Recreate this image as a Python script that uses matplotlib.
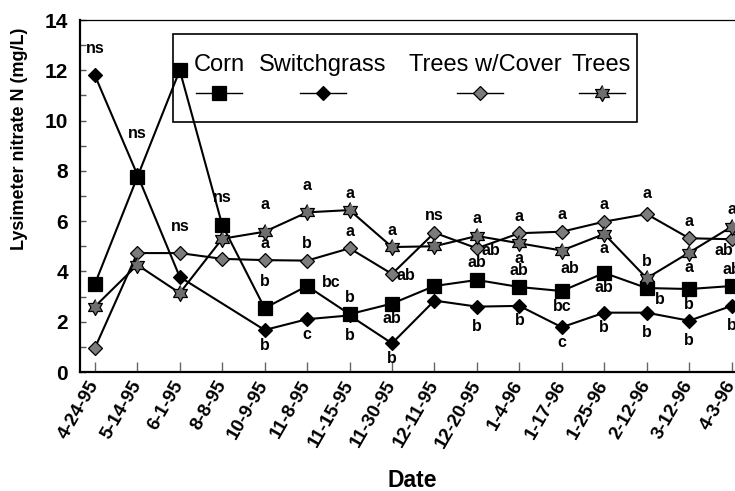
import numpy as np
import matplotlib

matplotlib.use("Agg")
import matplotlib.pyplot as plt
from matplotlib.lines import Line2D
from matplotlib.patches import Rectangle
from matplotlib.ticker import MultipleLocator

plt.rcParams["font.family"] = ["Liberation Sans", "DejaVu Sans"]

dates = ["4-24-95", "5-14-95", "6-1-95", "8-8-95", "10-9-95", "11-8-95",
         "11-15-95", "11-30-95", "12-11-95", "12-20-95", "1-4-96", "1-17-96",
         "1-25-96", "2-12-96", "3-12-96", "4-3-96"]

corn = [3.5, 7.75, 12.0, 5.85, 2.54, 3.42, 2.3, 2.72, 3.42, 3.66, 3.38, 3.22,
        3.94, 3.34, 3.3, 3.42]
switchgrass = [11.8, 7.85, 3.78, np.nan, 1.67, 2.1, 2.25, 1.14, 2.84, 2.6,
               2.63, 1.78, 2.36, 2.36, 2.04, 2.63]
trees_cover = [0.95, 4.73, 4.73, 4.5, 4.45, 4.43, 4.92, 3.9, 5.54, 4.92,
               5.52, 5.58, 5.98, 6.28, 5.32, 5.28]
trees = [2.6, 4.26, 3.14, 5.3, 5.58, 6.35, 6.44, 4.97, 5.0, 5.41, 5.12, 4.83,
         5.49, 3.73, 4.75, 5.78]

# mean-separation letters at each date
corn_sig = ["", "ns", "", "ns", "b", "bc", "b", "ab", "", "ab", "ab", "bc",
            "ab", "b", "b", "ab"]
switchgrass_sig = ["ns", "", "", "", "b", "c", "b", "b", "", "b", "b", "c",
                   "b", "b", "b", "b"]
trees_cover_sig = ["", "", "ns", "", "a", "b", "a", "ab", "ns", "ab", "a", "a",
                   "a", "a", "a", "ab"]
trees_sig = ["", "", "", "", "a", "a", "a", "a", "", "a", "a", "ab", "a", "b",
             "a", "a"]

# where each letter sits relative to its marker
corn_pos = ["", "W", "", "U", "U", "R", "u", "d", "", "u", "u", "d", "d", "rd",
            "d", "u"]
switchgrass_pos = ["U", "", "", "", "d", "d", "D", "d", "", "D", "d", "d", "d",
                   "D", "D", "D"]
trees_cover_pos = ["", "", "U", "", "u", "u", "u", "r", "u", "r", "u", "u", "u",
                   "uu", "u", "dl"]
trees_pos = ["", "", "", "", "U", "U", "u", "u", "", "u", "d", "dr", "d", "u",
             "d", "u"]

OFFSETS = {"u": (0, 17), "uu": (0, 21), "U": (0, 27), "W": (0, 44),
           "d": (0, -15), "D": (0, -20), "dr": (8, -18), "dl": (-8, -11),
           "rd": (13, -11), "r": (14, -2), "R": (24, 4)}


def hexagram():
    verts = []
    for k in range(12):
        r = 1.0 if k % 2 == 0 else 1 / np.sqrt(3)
        a = np.deg2rad(90 + 30 * k)
        verts.append((r * np.cos(a), r * np.sin(a)))
    return verts


STAR = hexagram()
styles = {
    "Corn": dict(marker="s", markersize=10, markerfacecolor="black"),
    "Switchgrass": dict(marker="D", markersize=7, markerfacecolor="black"),
    "Trees w/Cover": dict(marker="D", markersize=7.4, markerfacecolor="#7c7c7c"),
    "Trees": dict(marker=STAR, markersize=11.5, markerfacecolor="#6e6e6e"),
}

series = [("Corn", corn, corn_sig, corn_pos),
          ("Switchgrass", switchgrass, switchgrass_sig, switchgrass_pos),
          ("Trees w/Cover", trees_cover, trees_cover_sig, trees_cover_pos),
          ("Trees", trees, trees_sig, trees_pos)]

fig = plt.figure(figsize=(7.35, 4.91), dpi=100)
ax = fig.add_axes([80 / 735, 1 - 372 / 491, 655 / 735, 352 / 491])

x = np.arange(len(dates))
for name, vals, sig, pos in series:
    vals = np.asarray(vals, dtype=float)
    ok = ~np.isnan(vals)
    ax.plot(x[ok], vals[ok], color="black", linewidth=1.5,
            markeredgecolor="black", markeredgewidth=0.9, clip_on=False,
            **styles[name])
    for i, (txt, p) in enumerate(zip(sig, pos)):
        if not txt:
            continue
        dx, dy = OFFSETS[p]
        ax.annotate(txt, (x[i], vals[i]), xytext=(dx, dy),
                    textcoords="offset pixels", ha="center", va="center",
                    fontsize=11.5, fontweight="bold")

ax.set_xlim(-0.35, 15.08)
ax.set_ylim(0, 14)
ax.set_xticks(x)
ax.set_xticklabels(dates, fontsize=13.5, fontweight="bold")
plt.setp(ax.get_xticklabels(), rotation=60, ha="right", va="center",
         rotation_mode="anchor")
ax.yaxis.set_major_locator(MultipleLocator(2))
ax.yaxis.set_minor_locator(MultipleLocator(1))
for lab in ax.get_yticklabels():
    lab.set_fontweight("bold")

ax.tick_params(axis="x", direction="in", length=7, width=1, color="#666666",
               pad=7)
ax.tick_params(axis="y", which="both", direction="in", length=4.5, width=1,
               color="#555555", pad=8.5)
ax.tick_params(axis="y", which="major", labelsize=15)

ax.spines["right"].set_visible(False)
ax.spines["left"].set_linewidth(1.6)
ax.spines["bottom"].set_linewidth(1.6)
ax.spines["top"].set_linewidth(0.9)

ax.set_ylabel("Lysimeter nitrate N (mg/L)", fontsize=13, fontweight="bold")
ax.yaxis.set_label_coords(-0.079, 0.662)
ax.set_xlabel("Date", fontsize=16.5, fontweight="bold", va="center")
ax.xaxis.set_label_coords(0.507, -0.307)


# hand-built legend: names on top, samples underneath
def fx(px):
    return px / 735


def fy(py):
    return 1 - py / 491


fig.add_artist(Rectangle((fx(173), fy(122)), fx(637) - fx(173),
                         fy(34) - fy(122), transform=fig.transFigure,
                         fill=False, edgecolor="black", linewidth=1.2))
text_x = [219, 323, 485, 601]
sample_x = [219, 323, 480, 602]
for (name, *_), tx, sx in zip(series, text_x, sample_x):
    fig.text(fx(tx), fy(65), name, ha="center", va="center", fontsize=17)
    fig.add_artist(Line2D([fx(sx - 23), fx(sx + 23)], [fy(93), fy(93)],
                          transform=fig.transFigure, color="black",
                          linewidth=1.0))
    fig.add_artist(Line2D([fx(sx)], [fy(93)], transform=fig.transFigure,
                          linestyle="none", markeredgecolor="black",
                          markeredgewidth=0.9, **styles[name]))

fig.savefig("out.png", dpi=100)
